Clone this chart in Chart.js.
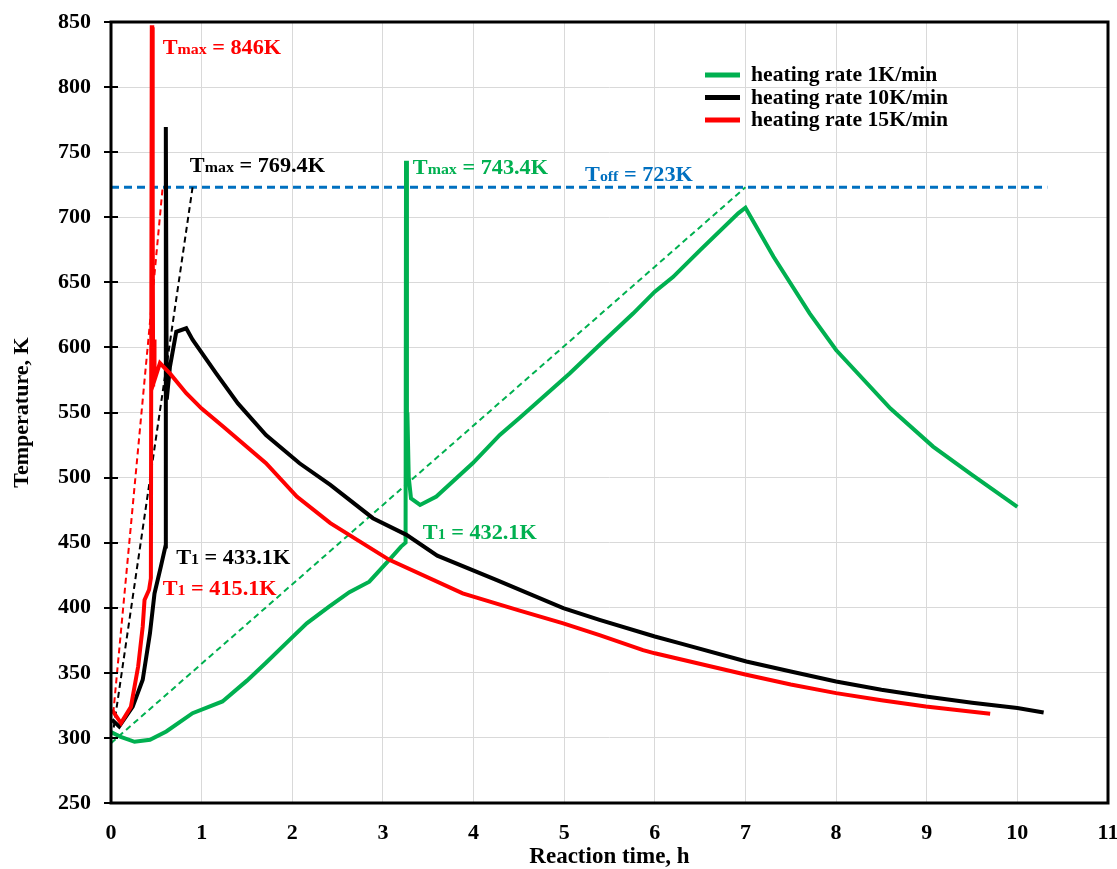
<!DOCTYPE html>
<html>
<head>
<meta charset="utf-8">
<title>Temperature vs reaction time</title>
<script src="https://cdn.jsdelivr.net/npm/chart.js@4.4.1/dist/chart.umd.min.js"></script>
<style>
  html, body { margin: 0; padding: 0; background: #fff; }
  #wrap { width: 1117px; height: 869px; }
</style>
</head>
<body>
<div id="wrap"><canvas id="tempChart" width="1117" height="869"></canvas></div>
<script>
// heating rate 1 K/min
const greenTime = [0, 0.1, 0.26, 0.43, 0.61, 0.9, 1.23, 1.5, 1.71, 1.95, 2.16, 2.41, 2.63, 2.85, 3.07, 3.2, 3.25,
  3.255, 3.265, 3.27, 3.285, 3.31, 3.41, 3.59, 3.99, 4.29, 4.51, 5.06, 5.39, 5.76, 6.0, 6.2, 6.5, 6.92, 7.0,
  7.31, 7.71, 8.0, 8.6, 9.07, 9.5, 10.0];
const greenTemp = [304.5, 301, 297, 298.6, 305, 319, 328, 344, 357.7, 374, 388, 401, 412, 420, 436.8, 447, 450,
  743.4, 530, 550, 500, 484, 479, 485.4, 511, 532.8, 546, 580, 601.8, 626, 642.8, 654, 674.8, 703, 707.3,
  669.6, 626, 598, 553, 523.8, 502, 477.5];

// heating rate 10 K/min
const blackTime = [0.01, 0.09, 0.24, 0.35, 0.43, 0.48, 0.55, 0.6, 0.605, 0.615, 0.65, 0.72, 0.83, 0.9,
  1.16, 1.4, 1.71, 2.08, 2.42, 2.89, 3.26, 3.6, 4.25, 4.99, 5.39, 6.0, 6.27, 7.01, 7.5, 8.0, 8.5,
  8.99, 9.5, 10.0, 10.29];
const blackTemp = [314, 308.8, 324, 344.7, 380.5, 411, 431.6, 447, 769.4, 560, 585, 612, 614.7, 606,
  580, 557, 532.7, 511, 494.4, 468.8, 456, 440, 421.4, 399.7, 390.7, 377.9, 372.8, 358.7, 351, 343.4, 337,
  331.8, 327, 323, 319.6];

// heating rate 15 K/min
const redTime = [0.01, 0.11, 0.22, 0.3, 0.35, 0.37, 0.42, 0.44, 0.45, 0.455, 0.46, 0.465, 0.475, 0.48,
  0.54, 0.65, 0.83, 1.0, 1.24, 1.71, 2.05, 2.42, 3.07, 3.88, 4.5, 4.99, 5.39, 5.87, 6.0, 7.01, 7.5,
  8.0, 8.5, 8.99, 9.7];
const redTemp = [321.6, 311.4, 324, 355, 385.6, 406, 413.8, 422.7, 846, 846, 700, 570, 606, 575,
  588, 580, 564.8, 553, 539, 511, 485.4, 465, 436.8, 411, 398, 388, 379, 367.5, 365, 348.5, 341,
  334.4, 329, 324.2, 318.6];

// tangent lines and switch-off temperature
const redTangentTime = [0.025, 0.57];
const redTangentTemp = [319, 723];
const blackTangentTime = [0.03, 0.9];
const blackTangentTemp = [308, 723];
const greenTangentTime = [0, 7.0];
const greenTangentTemp = [296, 723];
const toffTime = [0, 10.33];
const toffTemp = [723, 723];

// annotations: T + subscript + value, anchored at (time, temperature)
const labelSub = ['max', 'max', 'max', 'off', '1', '1', '1'];
const labelValue = [' = 846K', ' = 769.4K', ' = 743.4K', ' = 723K', ' = 432.1K', ' = 433.1K', ' = 415.1K'];
const labelTime = [0.57, 0.87, 3.33, 5.23, 3.44, 0.72, 0.57];
const labelTemp = [831, 740, 738.5, 733.5, 458.5, 439.3, 415];

const xRange = [0, 11];
const yRange = [250, 850];

const GREEN = '#00B050';
const BLACK = '#000000';
const RED = '#FF0000';
const BLUE = '#0070C0';
const FONT = "'Liberation Serif', 'Times New Roman', serif";
const labelColor = [RED, BLACK, GREEN, BLUE, GREEN, BLACK, RED];

function pts(xs, ys) {
    return xs.map((x, i) => ({ x: x, y: ys[i] }));
}

function solid(label, xs, ys, color) {
    return {
        label: label,
        data: pts(xs, ys),
        borderColor: color,
        backgroundColor: color,
        borderWidth: 4,
        showLine: true,
        pointRadius: 0,
        tension: 0
    };
}

function dashed(xs, ys, color, width, dash) {
    return {
        label: '',
        data: pts(xs, ys),
        borderColor: color,
        borderWidth: width,
        borderDash: dash,
        showLine: true,
        pointRadius: 0,
        tension: 0
    };
}

const legendOrder = [2, 1, 0]; // green, black, red

// text in the source is a little wider than the font, stretch it a bit
function wideText(ctx, text, px, py, stretch) {
    ctx.save();
    ctx.translate(px, py);
    ctx.scale(stretch, 1);
    ctx.fillText(text, 0, 0);
    ctx.restore();
    return ctx.measureText(text).width * stretch;
}

const extras = {
    id: 'extras',
    afterDatasetsDraw(chart) {
        const { ctx, chartArea: a, scales: { x, y } } = chart;
        ctx.save();

        // frame round the plot
        ctx.strokeStyle = '#000';
        ctx.lineWidth = 3;
        ctx.strokeRect(a.left, a.top, a.right - a.left, a.bottom - a.top);

        // y tick marks crossing the axis
        ctx.lineWidth = 2;
        y.ticks.forEach(t => {
            const py = Math.round(y.getPixelForValue(t.value));
            ctx.beginPath();
            ctx.moveTo(a.left - 7, py);
            ctx.lineTo(a.left + 7, py);
            ctx.stroke();
        });

        // annotations
        ctx.textBaseline = 'alphabetic';
        ctx.textAlign = 'left';
        labelSub.forEach((sub, i) => {
            let px = x.getPixelForValue(labelTime[i]);
            const py = y.getPixelForValue(labelTemp[i]) + 7;
            ctx.fillStyle = labelColor[i];
            ctx.font = 'bold 21px ' + FONT;
            px += wideText(ctx, 'T', px, py, 1.06);
            ctx.font = 'bold 15px ' + FONT;
            px += wideText(ctx, sub, px, py, 1.06);
            ctx.font = 'bold 21px ' + FONT;
            wideText(ctx, labelValue[i], px, py, 1.06);
        });

        // legend inside the plot
        ctx.textBaseline = 'middle';
        legendOrder.forEach((di, row) => {
            const ds = chart.data.datasets[di];
            const ly = a.top + 53 + row * 22.5;
            ctx.strokeStyle = ds.borderColor;
            ctx.lineWidth = 5;
            ctx.beginPath();
            ctx.moveTo(a.left + 594, ly);
            ctx.lineTo(a.left + 629, ly);
            ctx.stroke();
            ctx.fillStyle = '#000';
            ctx.font = 'bold 21px ' + FONT;
            wideText(ctx, ds.label, a.left + 640, ly + 1, 1.03);
        });

        ctx.restore();
    }
};

new Chart(document.getElementById('tempChart'), {
    type: 'scatter',
    data: {
        datasets: [
            solid('heating rate 15K/min', redTime, redTemp, RED),
            solid('heating rate 10K/min', blackTime, blackTemp, BLACK),
            solid('heating rate 1K/min', greenTime, greenTemp, GREEN),
            dashed(redTangentTime, redTangentTemp, RED, 2, [6, 4]),
            dashed(blackTangentTime, blackTangentTemp, BLACK, 2, [6, 4]),
            dashed(greenTangentTime, greenTangentTemp, GREEN, 2, [6, 4]),
            dashed(toffTime, toffTemp, BLUE, 3, [8, 5])
        ]
    },
    options: {
        responsive: false,
        animation: false,
        devicePixelRatio: 1,
        layout: { padding: { top: 22, right: 9, left: 0, bottom: 0 } },
        plugins: {
            legend: { display: false },
            tooltip: { enabled: false }
        },
        scales: {
            x: {
                type: 'linear',
                min: xRange[0],
                max: xRange[1],
                afterFit: s => { s.height = 66; s.paddingLeft = 0; s.paddingRight = 0; },
                grid: { color: '#d9d9d9', lineWidth: 1, drawTicks: false },
                border: { display: false },
                ticks: {
                    stepSize: 1,
                    padding: 17,
                    color: '#000',
                    font: { family: FONT, size: 22, weight: 'bold' }
                },
                title: {
                    display: true,
                    text: 'Reaction time, h',
                    color: '#000',
                    padding: { top: 0, bottom: 0 },
                    font: { family: FONT, size: 23, weight: 'bold', lineHeight: 1 }
                }
            },
            y: {
                min: yRange[0],
                max: yRange[1],
                afterFit: s => { s.width = 111; s.paddingTop = 0; s.paddingBottom = 0; },
                grid: { color: '#d9d9d9', lineWidth: 1, drawTicks: false },
                border: { display: false },
                ticks: {
                    stepSize: 50,
                    padding: 20,
                    color: '#000',
                    font: { family: FONT, size: 22, weight: 'bold' }
                },
                title: {
                    display: true,
                    text: 'Temperature, K',
                    color: '#000',
                    padding: { top: 9, bottom: 0 },
                    font: { family: FONT, size: 22, weight: 'bold' }
                }
            }
        }
    },
    plugins: [extras]
});
</script>
</body>
</html>
